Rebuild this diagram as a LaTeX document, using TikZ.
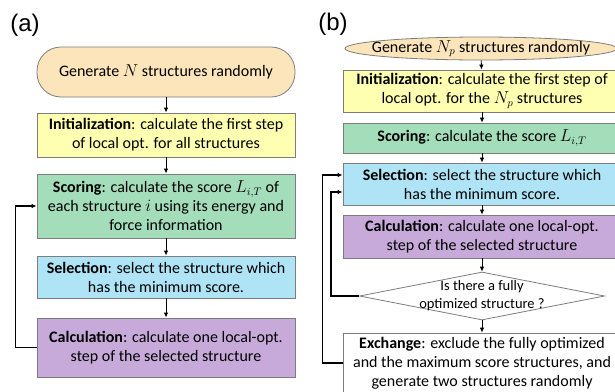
\documentclass[tikz,border=0pt]{standalone}
\usepackage{fontspec}
\setmainfont{Carlito}
\newfontfamily\panelfont{Liberation Sans}
\usetikzlibrary{shapes.geometric,arrows.meta}
\definecolor{startfill}{RGB}{252,229,186}
\definecolor{initfill}{RGB}{255,255,178}
\definecolor{scorefill}{RGB}{163,221,186}
\definecolor{selfill}{RGB}{174,228,246}
\definecolor{calcfill}{RGB}{199,170,218}
\definecolor{edgegray}{RGB}{125,125,125}
\begin{document}
\begin{tikzpicture}[x=1pt,y=-1pt,
  box/.style={draw=edgegray, line width=0.8pt, align=center, inner sep=0pt,
    font=\fontsize{16}{19}\selectfont},
  boxa/.style={box, minimum width=258pt},
  boxb/.style={box, minimum width=278pt},
  flow/.style={-{Latex[length=5pt,width=4.5pt]}, line width=1pt},
  back/.style={-{Latex[length=5pt,width=4.5pt]}, line width=1.6pt},
  panel/.style={font=\panelfont\fontsize{24}{28}\selectfont}]
\useasboundingbox (0,0) rectangle (615,391);
\clip (0,0) rectangle (615,391);

% panel (a)
\node[panel] (taga) at (25,25) {(a)};
\node[boxa, fill=startfill, rounded corners=24pt, minimum height=50pt] (gena) at (166,72)
  {Generate $N$ structures randomly};
\node[boxa, fill=initfill, minimum height=44pt] (inita) at (166,135)
  {\textbf{Initialization}: calculate the first step\\of local opt. for all structures};
\node[boxa, fill=scorefill, minimum height=64pt] (scorea) at (166,206)
  {\textbf{Scoring}: calculate the score $L_{i,T}$ of\\each structure $i$ using its energy and\\force information};
\node[boxa, fill=selfill, minimum height=42pt] (sela) at (166,277)
  {\textbf{Selection}: select the structure which\\has the minimum score.};
\node[boxa, fill=calcfill, minimum height=59pt] (calca) at (166,347.5)
  {\textbf{Calculation}: calculate one local-opt.\\step of the selected structure};
\draw[flow] (gena) -- (inita);
\draw[flow] (inita) -- (scorea);
\draw[flow] (scorea) -- (sela);
\draw[flow] (sela) -- (calca);
\draw[back] (calca.west) -- ++(-21,0) |- (scorea.west);

% panel (b)
\node[panel] (tagb) at (333,24) {(b)};
\node[box, ellipse, fill=startfill, minimum width=272pt, minimum height=23pt,
  label={[font=\fontsize{16}{19}\selectfont]center:Generate $N_p$ structures randomly}] (genb) at (481,48.5) {};
\node[boxb, fill=initfill, minimum height=42pt] (initb) at (482,91)
  {\textbf{Initialization}: calculate the first step of\\local opt. for the $N_p$ structures};
\node[boxb, fill=scorefill, minimum height=30pt] (scoreb) at (482,138)
  {\textbf{Scoring}: calculate the score $L_{i,T}$};
\node[boxb, fill=selfill, minimum height=42pt] (selb) at (482,184)
  {\textbf{Selection}: select the structure which\\has the minimum score.};
\node[boxb, fill=calcfill, minimum height=43pt] (calcb) at (482,236.5)
  {\textbf{Calculation}: calculate one local-opt.\\step of the selected structure};
\node[box, diamond, fill=white, minimum width=245pt, minimum height=48pt,
  label={[font=\fontsize{14.5}{18}\selectfont, align=center]center:Is there a fully\\optimized structure ?}] (askb) at (482,296) {};
\node[boxb, fill=white, minimum height=60pt] (exchb) at (482,363)
  {\textbf{Exchange}: exclude the fully optimized\\and the maximum score structures, and\\generate two structures randomly};
\draw[flow, line width=0.8pt] (genb) -- (initb);
\draw[flow, line width=0.8pt] (initb) -- (scoreb);
\draw[flow, line width=0.8pt] (scoreb) -- (selb);
\draw[flow, line width=0.8pt] (selb) -- (calcb);
\draw[flow, line width=0.8pt] (calcb) -- (askb);
\draw[flow, line width=0.8pt] (askb) -- (exchb);
\draw[back] (askb.west) -- ++(-28,0) |- ([yshift=-8pt]selb.west);
\draw[back] (exchb.west) -- ++(-20,0) |- ([yshift=9pt]selb.west);
\end{tikzpicture}
\end{document}
